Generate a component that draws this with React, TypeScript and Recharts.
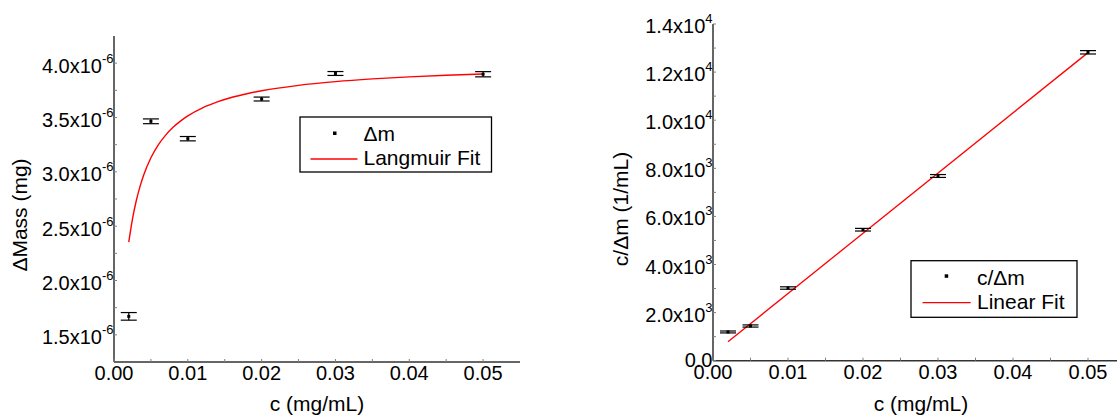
import React from 'react';
import { ComposedChart, Scatter, Line, XAxis, YAxis, ErrorBar } from 'recharts';

// ---- data ----
const concentrations = [0.002, 0.005, 0.01, 0.02, 0.03, 0.05];
const deltaMass = [1.67, 3.465, 3.305, 3.67, 3.905, 3.898]; // x10^-6 mg
const deltaMassErr = [0.035, 0.022, 0.02, 0.018, 0.018, 0.024];
const cOverDm = [1195, 1443, 3022, 5447, 7680, 12823];
const cOverDmErr = [40, 45, 50, 55, 60, 70];

const langmuirC = [0.002, 0.0025, 0.003, 0.0035, 0.004, 0.005, 0.006, 0.007, 0.008, 0.009, 0.01, 0.012, 0.014, 0.016, 0.018, 0.02, 0.025, 0.03, 0.035, 0.04, 0.045, 0.05];
const langmuirFit = [2.353, 2.565, 2.729, 2.859, 2.966, 3.129, 3.248, 3.338, 3.41, 3.467, 3.515, 3.589, 3.643, 3.686, 3.719, 3.746, 3.796, 3.83, 3.855, 3.874, 3.889, 3.9];

const linearC = [0.002, 0.05];
const linearFit = [790, 12810];

const xTicks = [0, 0.005, 0.01, 0.015, 0.02, 0.025, 0.03, 0.035, 0.04, 0.045, 0.05];
const leftYTicks = [1.5, 1.75, 2, 2.25, 2.5, 2.75, 3, 3.25, 3.5, 3.75, 4];
const rightYTicks = [0, 1000, 2000, 3000, 4000, 5000, 6000, 7000, 8000, 9000, 10000, 11000, 12000, 13000, 14000];

const leftScatter = concentrations.map((c, i) => ({ c, y: deltaMass[i], err: deltaMassErr[i] }));
const leftLine = langmuirC.map((c, i) => ({ c, y: langmuirFit[i] }));
const rightScatter = concentrations.map((c, i) => ({ c, y: cOverDm[i], err: cOverDmErr[i] }));
const rightLine = linearC.map((c, i) => ({ c, y: linearFit[i] }));

const FONT = '"Liberation Sans", Arial, sans-serif';
const TICK_COLOR = '#808080';

const isMajorX = (v: number) => Math.abs(v * 100 - Math.round(v * 100)) < 1e-6;

const BottomTick = (props: any) => {
  const { x, y, payload } = props;
  const v = payload.value as number;
  const major = isMajorX(v);
  return (
    <g>
      <line x1={x} y1={y} x2={x} y2={y - 3} stroke={TICK_COLOR} strokeWidth={1} />
      {major && (
        <text x={x} y={y + 18} textAnchor="middle" fontSize={20} fontFamily={FONT} fill="#000">
          {v.toFixed(2)}
        </text>
      )}
    </g>
  );
};

const TopTick = (props: any) => {
  const { x, y } = props;
  return <line x1={x} y1={y} x2={x} y2={y + 3} stroke={TICK_COLOR} strokeWidth={1} />;
};

const RightTick = (props: any) => {
  const { x, y } = props;
  return <line x1={x} y1={y} x2={x - 3} y2={y} stroke={TICK_COLOR} strokeWidth={1} />;
};

const LeftTickMass = (props: any) => {
  const { x, y, payload } = props;
  const v = payload.value as number;
  const major = Math.abs(v * 2 - Math.round(v * 2)) < 1e-6;
  return (
    <g>
      <line x1={x} y1={y} x2={x + 3} y2={y} stroke={TICK_COLOR} strokeWidth={1} />
      {major && (
        <text x={x - 0.5} y={y + 9.5} textAnchor="end" fontSize={20} fontFamily={FONT} fill="#000">
          {v.toFixed(1) + 'x10'}
          <tspan fontSize={13} dy={-10}>-6</tspan>
        </text>
      )}
    </g>
  );
};

const LeftTickRatio = (props: any) => {
  const { x, y, payload } = props;
  const v = payload.value as number;
  const major = v % 2000 === 0;
  let label: React.ReactNode = null;
  if (major) {
    if (v === 0) {
      label = (
        <text x={x - 0.5} y={y + 6} textAnchor="end" fontSize={20} fontFamily={FONT} fill="#000">
          0.0
        </text>
      );
    } else {
      const exp = v >= 10000 ? 4 : 3;
      const mant = (v / Math.pow(10, exp)).toFixed(1);
      label = (
        <text x={x - 0.5} y={y + 9} textAnchor="end" fontSize={20} fontFamily={FONT} fill="#000">
          {mant + 'x10'}
          <tspan fontSize={13} dy={-10}>{String(exp)}</tspan>
        </text>
      );
    }
  }
  return (
    <g>
      <line x1={x} y1={y} x2={x + 3} y2={y} stroke={TICK_COLOR} strokeWidth={1} />
      {label}
    </g>
  );
};

const SquareDot = (props: any) => {
  const { cx, cy } = props;
  if (cx == null || cy == null) return null;
  return <rect x={cx - 1.5} y={cy - 1.5} width={3} height={3} fill="#000" />;
};

export default function App() {
  return (
    <div
      style={{
        position: 'absolute',
        left: 0,
        top: 0,
        width: 1117,
        height: 415,
        overflow: 'hidden',
        background: '#fff',
        fontFamily: FONT,
      }}
    >
      <div style={{ position: 'absolute', left: 0, top: 0 }}>
        <ComposedChart width={560} height={415} margin={{ top: 36, right: 40, bottom: 0, left: 0 }}>
          <XAxis
            dataKey="c"
            type="number"
            domain={[0, 0.055]}
            allowDataOverflow
            ticks={xTicks}
            interval={0}
            height={53}
            tickSize={0}
            tickMargin={0}
            tick={<BottomTick />}
            stroke="#333"
            strokeWidth={1.5}
          />
          <XAxis
            xAxisId="top"
            orientation="top"
            type="number"
            domain={[0, 0.055]}
            allowDataOverflow
            ticks={xTicks}
            interval={0}
            height={0}
            tickSize={0}
            tickMargin={0}
            tick={<TopTick />}
            stroke="#000"
            strokeWidth={1.5}
          />
          <YAxis
            dataKey="y"
            type="number"
            domain={[1.25, 4.25]}
            allowDataOverflow
            ticks={leftYTicks}
            interval={0}
            width={114}
            tickSize={0}
            tickMargin={0}
            tick={<LeftTickMass />}
            stroke="#333"
            strokeWidth={1.5}
          />
          <YAxis
            yAxisId="right"
            orientation="right"
            type="number"
            domain={[1.25, 4.25]}
            allowDataOverflow
            ticks={leftYTicks}
            interval={0}
            width={0}
            tickSize={0}
            tickMargin={0}
            tick={<RightTick />}
            stroke="#000"
            strokeWidth={1.5}
          />
          <Line
            data={leftLine}
            dataKey="y"
            type="monotone"
            stroke="#ff0000"
            strokeWidth={1.4}
            dot={false}
            activeDot={false}
            isAnimationActive={false}
          />
          <Scatter data={leftScatter} dataKey="y" shape={<SquareDot />} isAnimationActive={false}>
            <ErrorBar dataKey="err" direction="y" width={8} stroke="#000" strokeWidth={1.2} />
          </Scatter>
        </ComposedChart>
      </div>

      <div style={{ position: 'absolute', left: 560, top: 0 }}>
        <ComposedChart width={600} height={415} margin={{ top: 24, right: 34.5, bottom: 0, left: 0 }}>
          <XAxis
            dataKey="c"
            type="number"
            domain={[0, 0.055]}
            allowDataOverflow
            ticks={xTicks}
            interval={0}
            height={54.3}
            tickSize={0}
            tickMargin={0}
            tick={<BottomTick />}
            stroke="#333"
            strokeWidth={1.5}
          />
          <XAxis
            xAxisId="top"
            orientation="top"
            type="number"
            domain={[0, 0.055]}
            allowDataOverflow
            ticks={xTicks}
            interval={0}
            height={0}
            tickSize={0}
            tickMargin={0}
            tick={<TopTick />}
            stroke="#000"
            strokeWidth={1.5}
          />
          <YAxis
            dataKey="y"
            type="number"
            domain={[0, 14000]}
            allowDataOverflow
            ticks={rightYTicks}
            interval={0}
            width={153}
            tickSize={0}
            tickMargin={0}
            tick={<LeftTickRatio />}
            stroke="#333"
            strokeWidth={1.5}
          />
          <YAxis
            yAxisId="right"
            orientation="right"
            type="number"
            domain={[0, 14000]}
            allowDataOverflow
            ticks={rightYTicks}
            interval={0}
            width={0}
            tickSize={0}
            tickMargin={0}
            tick={<RightTick />}
            stroke="#000"
            strokeWidth={1.5}
          />
          <Line
            data={rightLine}
            dataKey="y"
            type="linear"
            stroke="#ff0000"
            strokeWidth={1.3}
            dot={false}
            activeDot={false}
            isAnimationActive={false}
          />
          <Scatter data={rightScatter} dataKey="y" shape={<SquareDot />} isAnimationActive={false}>
            <ErrorBar dataKey="err" direction="y" width={8} stroke="#000" strokeWidth={1.2} />
          </Scatter>
        </ComposedChart>
      </div>

      {/* titles and legends */}
      <svg
        width={1117}
        height={415}
        style={{ position: 'absolute', left: 0, top: 0, pointerEvents: 'none' }}
      >
        <text x={27} y={215} transform="rotate(-90, 27, 215)" textAnchor="middle" fontSize={21} fontFamily={FONT} fill="#000">
          ΔMass (mg)
        </text>
        <text x={317} y={411} textAnchor="middle" fontSize={21} fontFamily={FONT} fill="#000">
          c (mg/mL)
        </text>
        <text x={628} y={209} transform="rotate(-90, 628, 209)" textAnchor="middle" fontSize={21} fontFamily={FONT} fill="#000">
          c/Δm (1/mL)
        </text>
        <text x={921} y={411} textAnchor="middle" fontSize={21} fontFamily={FONT} fill="#000">
          c (mg/mL)
        </text>

        {/* left legend */}
        <rect x={300} y={117} width={191.5} height={55} fill="#fff" stroke="#000" strokeWidth={1.3} />
        <rect x={333} y={131.5} width={3.5} height={3.5} fill="#000" />
        <text x={363.5} y={141} fontSize={21} fontFamily={FONT} fill="#000">Δm</text>
        <line x1={310.5} y1={159} x2={357.5} y2={159} stroke="#ff0000" strokeWidth={1.4} />
        <text x={363.5} y={165} fontSize={21} fontFamily={FONT} fill="#000">Langmuir Fit</text>

        {/* right legend */}
        <rect x={911} y={260.7} width={166} height={56.6} fill="#fff" stroke="#000" strokeWidth={1.3} />
        <rect x={944.7} y={274.3} width={3.5} height={3.5} fill="#000" />
        <text x={977} y={285} fontSize={21} fontFamily={FONT} fill="#000">c/Δm</text>
        <line x1={922.5} y1={302.7} x2={970.7} y2={302.7} stroke="#ff0000" strokeWidth={1.3} />
        <text x={977} y={309.3} fontSize={21} fontFamily={FONT} fill="#000">Linear Fit</text>
      </svg>
    </div>
  );
}
